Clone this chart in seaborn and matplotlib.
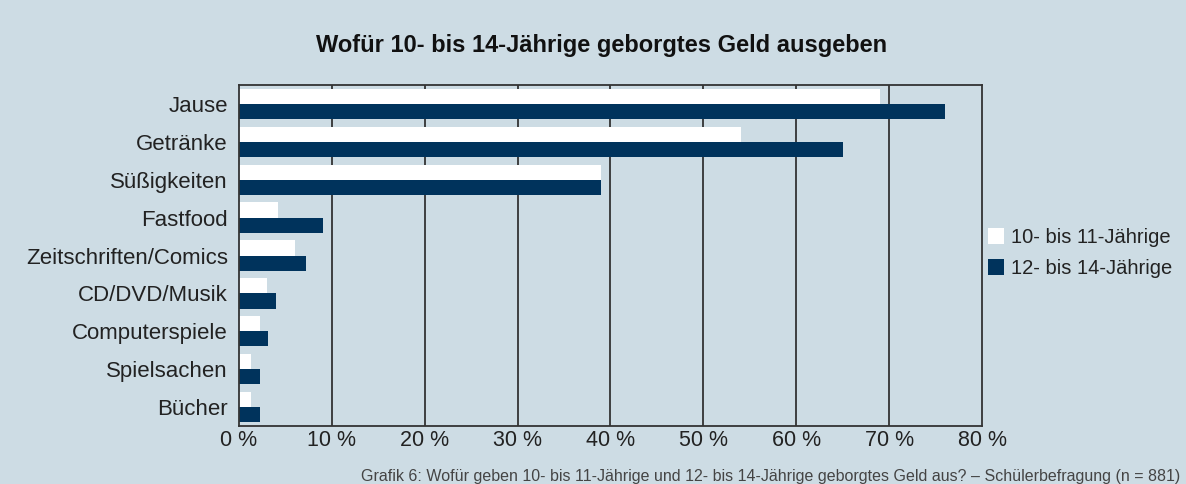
import numpy as np
import pandas as pd
import seaborn as sns
import matplotlib.pyplot as plt
from matplotlib.patches import Patch

categories = ['Jause', 'Getränke', 'Süßigkeiten', 'Fastfood', 'Zeitschriften/Comics',
              'CD/DVD/Musik', 'Computerspiele', 'Spielsachen', 'Bücher']
age_10_11 = [69, 54, 39, 4.2, 6, 3, 2.3, 1.3, 1.3]
age_12_14 = [76, 65, 39, 9, 7.2, 4, 3.1, 2.3, 2.3]
groups = ['10- bis 11-Jährige', '12- bis 14-Jährige']
ticks = [0, 10, 20, 30, 40, 50, 60, 70, 80]

bg = '#cddce4'
navy = '#00335c'

df = pd.DataFrame({
    'kategorie': categories * 2,
    'wert': age_10_11 + age_12_14,
    'gruppe': [groups[0]] * len(categories) + [groups[1]] * len(categories),
})

sns.set_style('white')
plt.rcParams['font.family'] = ['Liberation Sans', 'DejaVu Sans']

fig = plt.figure(figsize=(11.86, 4.84), dpi=100, facecolor=bg)
ax = fig.add_axes([0.2015, 0.1198, 0.6265, 0.7046])
ax.set_facecolor(bg)

sns.barplot(data=df, y='kategorie', x='wert', hue='gruppe', hue_order=groups,
            palette=['white', navy], orient='h', width=0.8, saturation=1,
            linewidth=0, legend=False, ax=ax)

ax.set_xlim(0, 80)
ax.set_xticks(ticks)
ax.set_xticklabels([f'{t} %' for t in ticks], fontsize=15.5, color='#222222')
ax.tick_params(axis='y', labelsize=16, labelcolor='#222222', length=0, pad=8)
ax.tick_params(axis='x', length=0, pad=3)
ax.set_xlabel('')
ax.set_ylabel('')
for t in ticks[1:-1]:
    ax.axvline(t, color='#333333', lw=1.3, zorder=0)
for s in ax.spines.values():
    s.set_color('#333333')
    s.set_linewidth(1.3)

fig.text(0.507, 0.905, 'Wofür 10- bis 14-Jährige geborgtes Geld ausgeben',
         ha='center', va='center', fontsize=17, fontweight='bold', color='#111111')

handles = [Patch(facecolor='white', edgecolor='none'), Patch(facecolor=navy, edgecolor='none')]
fig.legend(handles, groups, loc='center left', bbox_to_anchor=(0.818, 0.477), frameon=False,
           fontsize=14.5, handlelength=0.8, handleheight=0.8, handletextpad=0.35,
           labelspacing=0.6, labelcolor='#222222')

fig.text(0.995, 0.0, 'Grafik 6: Wofür geben 10- bis 11-Jährige und 12- bis 14-Jährige geborgtes Geld aus? – Schülerbefragung (n = 881)',
         ha='right', va='bottom', fontsize=11.5, color='#444444')

fig.savefig('out.png', dpi=100, facecolor=bg)
